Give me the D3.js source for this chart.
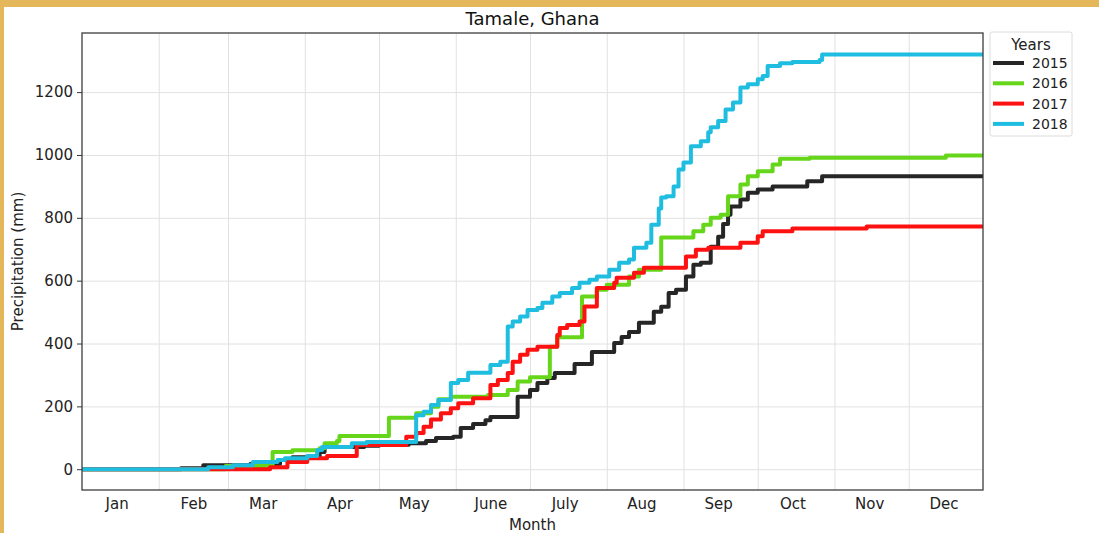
<!DOCTYPE html>
<html>
<head>
<meta charset="utf-8">
<script src="https://cdn.jsdelivr.net/npm/d3@7"></script>
<style>
  html, body { margin: 0; padding: 0; background: #fff; }
  body { width: 1099px; height: 533px; overflow: hidden; position: relative; }
  #frame { position: absolute; left: 0; top: 0; width: 1099px; height: 533px;
           box-sizing: border-box; border-top: 7px solid #e5b75b; border-left: 4px solid #e5b75b; }
  svg { position: absolute; left: 0; top: 0; font-family: "DejaVu Sans", sans-serif; }
  .grid line { stroke: #e1e1e1; stroke-width: 1; }
  .grid path { display: none; }
</style>
</head>
<body>
<div id="frame"></div>
<svg id="chart" width="1099" height="533"></svg>
<script>
// cumulative rainfall, [day of year, mm] at each step
const years = ['2015', '2016', '2017', '2018'];
const colores = ['#262626', '#66d61a', '#fe1111', '#1fbee0'];

const lluvia2015 = [[1,0],[41,3],[50,13],[69,17],[81,29],[86,38],[97,55],[99,71],[115,75],[121,78],[133,83],[140,90],[144,99],[151,103],[154,131],[159,144],[164,156],[166,166],[177,231],[182,252],[185,274],[189,290],[192,306],[200,335],[207,373],[216,402],[219,421],[222,437],[226,466],[232,501],[235,517],[238,561],[241,571],[245,613],[248,651],[251,657],[255,708],[258,740],[260,780],[262,810],[263,836],[267,858],[270,880],[274,890],[280,900],[294,916],[300,932],[365,932]];
const lluvia2016 = [[1,0],[59,10],[78,55],[86,60],[97,67],[99,83],[104,90],[105,106],[125,164],[136,178],[142,199],[145,223],[150,231],[165,236],[173,252],[177,279],[182,293],[190,390],[193,420],[203,550],[209,571],[213,587],[222,613],[226,635],[235,737],[248,757],[252,778],[255,800],[259,810],[262,869],[267,906],[270,932],[274,948],[280,970],[283,988],[295,991],[350,998],[365,998]];
const lluvia2017 = [[1,0],[70,0],[77,6],[84,23],[92,35],[100,42],[112,77],[132,103],[136,115],[139,135],[142,158],[146,178],[150,194],[153,210],[159,226],[166,268],[169,284],[173,306],[175,342],[178,364],[181,380],[185,390],[193,427],[194,449],[197,459],[202,470],[204,518],[209,577],[216,593],[217,609],[224,625],[228,641],[245,677],[249,698],[254,705],[267,721],[274,741],[276,757],[288,766],[318,772],[365,772]];
const lluvia2018 = [[1,0],[52,6],[62,13],[70,23],[80,29],[83,35],[92,42],[96,61],[98,71],[110,83],[116,87],[136,172],[139,183],[142,204],[145,220],[150,274],[153,284],[157,307],[166,332],[170,342],[173,454],[175,470],[178,486],[181,507],[185,513],[187,530],[191,550],[194,561],[199,577],[202,593],[206,603],[209,613],[214,635],[218,657],[222,667],[224,705],[229,721],[231,778],[234,830],[235,865],[237,869],[240,900],[242,954],[244,976],[247,1028],[251,1044],[254,1072],[255,1088],[258,1108],[261,1145],[264,1167],[267,1215],[270,1225],[274,1241],[276,1251],[278,1283],[283,1292],[288,1296],[299,1302],[300,1320],[365,1322]];
const series = [lluvia2015, lluvia2016, lluvia2017, lluvia2018];

const meses = ['Jan', 'Feb', 'Mar', 'Apr', 'May', 'June', 'July', 'Aug', 'Sep', 'Oct', 'Nov', 'Dec'];
const yTicks = [0, 200, 400, 600, 800, 1000, 1200];

const mLeft = 82, mRight = 983, mTop = 33, mBottom = 490;
const fuente = '"DejaVu Sans", sans-serif';

// day of year for a date in a non-leap year
const diaDelAnio = (m, d) => d3.timeDay.count(new Date(2015, 0, 1), new Date(2015, m, d)) + 1;
const inicioMes = d3.range(1, 12).map(m => diaDelAnio(m, 1));
const medioMes = d3.range(0, 12).map(m => diaDelAnio(m, 15));

const maxY = d3.max(series, s => d3.max(s, d => d[1]));
const pad = maxY * 0.05;

const escalaX = d3.scaleLinear().domain([1, 365]).range([mLeft, mRight]);
const escalaY = d3.scaleLinear().domain([-pad, maxY + pad]).range([mBottom, mTop]);

const svg = d3.select('#chart');

// grid
svg.append('g')
  .attr('class', 'grid')
  .attr('transform', 'translate(0,' + mBottom + ')')
  .call(d3.axisBottom(escalaX).tickValues(inicioMes).tickFormat('').tickSize(-(mBottom - mTop)));
svg.append('g')
  .attr('class', 'grid')
  .attr('transform', 'translate(' + mLeft + ',0)')
  .call(d3.axisLeft(escalaY).tickValues(yTicks).tickFormat('').tickSize(-(mRight - mLeft)));

// lines
const linea = d3.line()
  .x(d => escalaX(d[0]))
  .y(d => escalaY(d[1]))
  .curve(d3.curveStepAfter);

svg.append('clipPath').attr('id', 'clip')
  .append('rect').attr('x', mLeft).attr('y', mTop).attr('width', mRight - mLeft).attr('height', mBottom - mTop);

svg.append('g')
  .attr('clip-path', 'url(#clip)')
  .selectAll('path')
  .data(series)
  .enter()
  .append('path')
  .attr('d', d => linea(d))
  .style('fill', 'none')
  .style('stroke', (d, i) => colores[i])
  .style('stroke-width', 4)
  .style('stroke-linejoin', 'round');

// frame
svg.append('rect')
  .attr('x', mLeft).attr('y', mTop)
  .attr('width', mRight - mLeft).attr('height', mBottom - mTop)
  .style('fill', 'none').style('stroke', '#3d3d3d').style('stroke-width', 1.3);

// axes
const ejeY = svg.append('g')
  .attr('transform', 'translate(' + mLeft + ',0)')
  .call(d3.axisLeft(escalaY).tickValues(yTicks).tickFormat(d3.format('d')).tickSize(5).tickPadding(4));
ejeY.select('.domain').remove();
ejeY.selectAll('line').style('stroke', '#333');
ejeY.selectAll('text').style('font-size', '15px').style('fill', '#222').style('font-family', fuente);

const ejeX = svg.append('g')
  .attr('transform', 'translate(0,' + mBottom + ')')
  .call(d3.axisBottom(escalaX).tickValues(medioMes).tickFormat((d, i) => meses[i]).tickSize(0).tickPadding(8));
ejeX.select('.domain').remove();
ejeX.selectAll('text').style('font-size', '15px').style('fill', '#222').style('font-family', fuente);

// titles
svg.append('text')
  .attr('x', (mLeft + mRight) / 2).attr('y', 25)
  .attr('text-anchor', 'middle')
  .style('font-size', '18px').style('fill', '#111')
  .text('Tamale, Ghana');

svg.append('text')
  .attr('x', (mLeft + mRight) / 2).attr('y', 530)
  .attr('text-anchor', 'middle')
  .style('font-size', '15px').style('fill', '#222')
  .text('Month');

svg.append('text')
  .attr('transform', 'translate(23,' + ((mTop + mBottom) / 2) + ') rotate(-90)')
  .attr('text-anchor', 'middle')
  .style('font-size', '15px').style('fill', '#222')
  .text('Precipitation (mm)');

// legend
const leyenda = svg.append('g').attr('transform', 'translate(990,32)');
leyenda.append('rect')
  .attr('width', 82).attr('height', 104).attr('rx', 2)
  .style('fill', '#fff').style('stroke', '#dcdcdc').style('stroke-width', 1);
leyenda.append('text')
  .attr('x', 41).attr('y', 18)
  .attr('text-anchor', 'middle')
  .style('font-size', '15px').style('fill', '#222')
  .text('Years');

const item = leyenda.selectAll('.item')
  .data(years)
  .enter()
  .append('g')
  .attr('transform', (d, i) => 'translate(0,' + (31 + i * 20.3) + ')');
item.append('line')
  .attr('x1', 3).attr('x2', 34)
  .style('stroke', (d, i) => colores[i])
  .style('stroke-width', 4);
item.append('text')
  .attr('x', 42).attr('dy', '0.35em')
  .style('font-size', '14px').style('fill', '#222')
  .text(d => d);
</script>
</body>
</html>
